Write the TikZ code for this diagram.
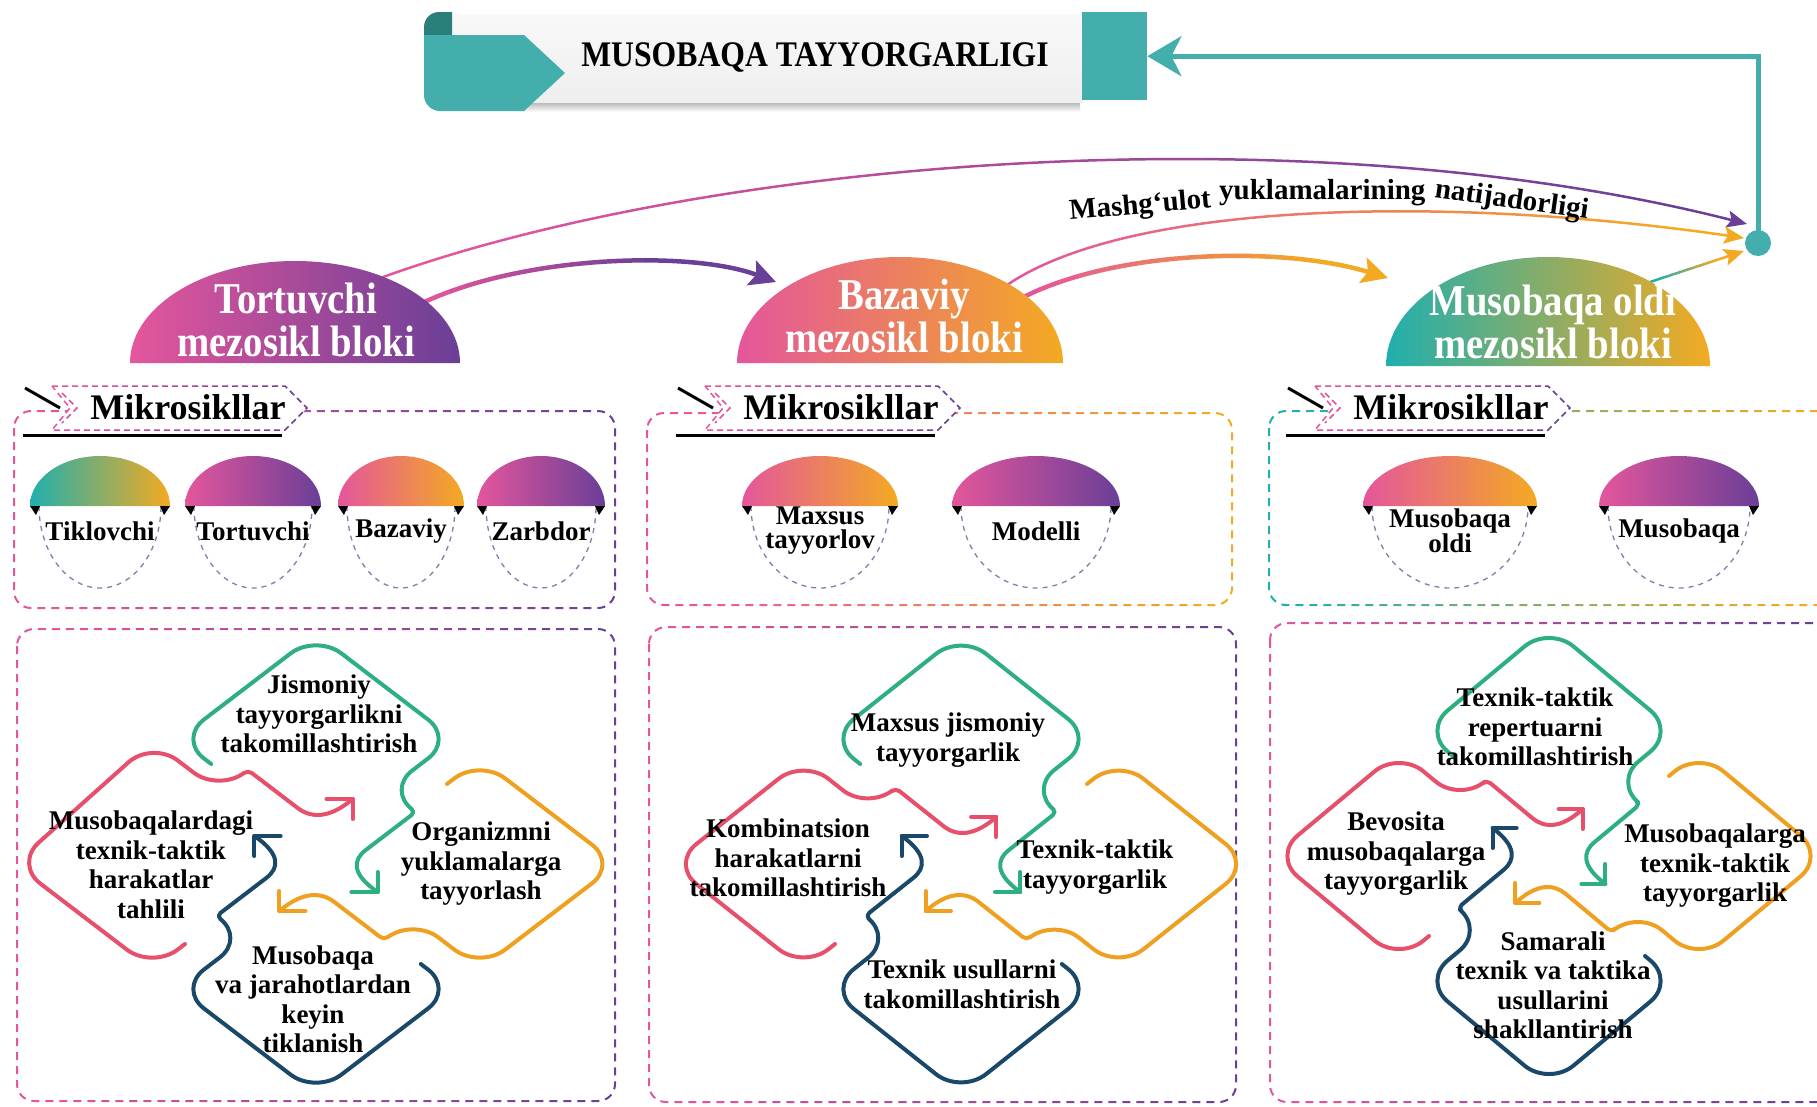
\documentclass[tikz,border=0pt]{standalone}
\usepackage{fontspec}
\setmainfont{Liberation Serif}
\newfontfamily\condfont{Liberation Serif}[FakeStretch=0.88]
\usetikzlibrary{arrows.meta,calc,positioning}

\definecolor{pinkc}{HTML}{E4569C}
\definecolor{purplec}{HTML}{6A3F97}
\definecolor{orangec}{HTML}{F3AA22}
\definecolor{tealc}{HTML}{20AFAD}
\definecolor{bannerteal}{HTML}{43AEAB}
\definecolor{curlteal}{HTML}{2B7F7B}
\definecolor{greenc}{HTML}{2EAF7F}
\definecolor{orangecyc}{HTML}{EFA020}
\definecolor{navyc}{HTML}{1A4868}
\definecolor{redc}{HTML}{E6506A}
\definecolor{dashgray}{HTML}{7E7FAA}

% colour running from left to right: same path, clipped in bands
\newcommand\gradline[5]{%
  \foreach \bandno in {0,...,15}{%
    \pgfmathsetmacro\bandL{ifthenelse(\bandno==0,-200,#3+(#4-#3)/16*\bandno)}%
    \pgfmathsetmacro\bandR{ifthenelse(\bandno==15,2200,#3+(#4-#3)/16*(\bandno+1))}%
    \pgfmathtruncatemacro\bandmix{100*\bandno/15}%
    \begin{scope}
      \clip (\bandL,-1300) rectangle (\bandR+0.5,200);
      \draw[color=#2!\bandmix!#1] #5;
    \end{scope}}}

% one arm of a cycle (drawn in the top position, then turned);
% #6 pushes the notched side outwards
\newcommand\squiggle[6]{%
  \begin{scope}[shift={(#1,#2)}, xscale=#3, rotate=#4]
    \draw[cycline, #5] (-80,100) [rounded corners=32pt] -- (-105,125) -- (0,230) -- (105+#6,125)
      -- (54+#6,74) [rounded corners=5pt] -- (76+#6,52) -- (41+#6,17) [sharp corners]
      .. controls (28+#6,4) and (27+#6,-10) .. (47+#6,-28);
    \draw[cycline, #5] (27+#6,-28) -- (47+#6,-28) -- (47+#6,-8);
  \end{scope}}

% microcycle dome with dashed lower half
\newcommand\microdome[6]{%
  \draw[dashgray, line width=1.3pt, dash pattern=on 5pt off 5pt]
    (#2-#3+9,-506) arc[start angle=180, end angle=360, x radius=#3-9, y radius=82];
  \shade[left color=#4, right color=#5]
    (#2-#3,-506) arc[start angle=180, end angle=0, x radius=#3, y radius=50] -- cycle;
  \fill (#2-#3,-506) -- ++(10,0) -- ++(-4,-9) -- cycle;
  \fill (#2+#3,-506) -- ++(-10,0) -- ++(4,-9) -- cycle;
  \node[microlbl] (#1) at (#2,-531) {#6};}

% "Mikrosikllar" tag
\newcommand\mtag[2]{%
  \fill[white] (#1,-386) -- (#1+233,-386) -- (#1+255,-408) -- (#1+233,-430) -- (#1,-430) -- (#1+18,-408) -- cycle;
  \gradline{pinkc}{purplec}{#1}{#1+255}{[tagline] (#1,-386) -- (#1+233,-386) -- (#1+255,-408) -- (#1+233,-430)
    -- (#1,-430) -- (#1+18,-408) -- cycle (#1+10,-393) -- (#1+25,-408) -- (#1+10,-423)}
  \draw[line width=3pt] (#1-27,-388) -- (#1+8,-408);
  \draw[line width=3pt] (#1-29,-435) -- (#1+230,-435);
  \node[taglbl] (#2) at (#1+136,-407) {Mikrosikllar};}

\tikzset{
  x=1pt, y=1pt,
  cycline/.style={line width=4pt, line cap=round, line join=round},
  cyctext/.style={font=\bfseries\fontsize{27}{29.5}\selectfont, align=center},
  domelbl/.style={font=\condfont\bfseries\fontsize{44}{43}\selectfont, text=white, align=center},
  microlbl/.style={font=\bfseries\fontsize{27}{24}\selectfont, align=center},
  taglbl/.style={font=\bfseries\fontsize{36}{40}\selectfont},
  arclbl/.style={font=\bfseries\fontsize{29}{30}\selectfont, inner sep=0, anchor=base west},
  boxline/.style={dash pattern=on 8pt off 6pt, line width=2pt, rounded corners=17pt},
  tagline/.style={dash pattern=on 6pt off 4pt, line width=1.5pt},
  thickarc/.style={line width=4.5pt, -{Stealth[length=26pt, width=26pt, inset=5pt]}},
  thinarc/.style={line width=2.5pt, -{Stealth[length=20pt, width=17pt, inset=4pt]}},
}

\begin{document}
\begin{tikzpicture}
  \useasboundingbox (0,0) rectangle (1817,-1106);
  \clip (0,0) rectangle (1817,-1106);

  % dashed frames
  \gradline{pinkc}{purplec}{14}{615}{[boxline] (14,-411) rectangle (615,-608)}
  \gradline{pinkc}{orangec}{647}{1232}{[boxline] (647,-413) rectangle (1232,-605)}
  \gradline{tealc}{orangec}{1269}{1817}{[boxline] (1269,-411) rectangle (1845,-605)}
  \gradline{pinkc}{purplec}{17}{615}{[boxline] (17,-629) rectangle (615,-1101)}
  \gradline{pinkc}{purplec}{649}{1236}{[boxline] (649,-627) rectangle (1236,-1102)}
  \gradline{pinkc}{purplec}{1270}{1817}{[boxline] (1270,-623) rectangle (1845,-1102)}

  % ends of the arcs
  \coordinate (tortA) at (375,-280);
  \coordinate (tortB) at (418,-305);
  \coordinate (bazIn) at (776,-282);
  \coordinate (bazA) at (1000,-290);
  \coordinate (bazB) at (1018,-300);
  \coordinate (musIn) at (1388,-278);
  \coordinate (musA) at (1650,-282);
  \coordinate (hubA) at (1747,-224);
  \coordinate (hubB) at (1744,-238);
  \coordinate (hubC) at (1744,-251);

  \gradline{pinkc}{purplec}{379}{1700}{[thinarc] (tortA) .. controls (700,-160) and (1300,-110) .. (hubA)}
  \gradline{pinkc}{purplec}{420}{660}{[thickarc] (tortB) .. controls (520,-255) and (690,-250) .. (bazIn)}
  \gradline{pinkc}{orangec}{1005}{1700}{[thinarc] (bazA) .. controls (1120,-200) and (1450,-195) .. (hubB)}
  \gradline{pinkc}{orangec}{1020}{1330}{[thickarc] (bazB) .. controls (1110,-250) and (1280,-245) .. (musIn)}
  \gradline{tealc}{orangec}{1655}{1720}{[thinarc] (musA) -- (hubC)}

  % mesocycle domes
  \shade[left color=pinkc, right color=purplec] (130,-363) arc[start angle=180, end angle=0, x radius=165, y radius=102] -- cycle;
  \shade[left color=pinkc, right color=orangec] (737,-363) arc[start angle=180, end angle=0, x radius=163, y radius=106] -- cycle;
  \shade[left color=tealc, right color=orangec] (1386,-366) arc[start angle=180, end angle=0, x radius=162, y radius=109] -- cycle;
  \node[domelbl] (tort) at (296,-320) {Tortuvchi\\mezosikl bloki};
  \node[domelbl] (baz) at (904,-316) {Bazaviy\\mezosikl bloki};
  \node[domelbl] (mus) at (1553,-322) {Musobaqa oldi\\mezosikl bloki};

  % title banner
  \shade[top color=black!35, bottom color=white] (520,-100) rectangle (1080,-112);
  \shade[top color=gray!5, bottom color=gray!13] (446,-14) rectangle (1083,-102);
  \fill[curlteal] (452,-40) -- (424,-40) -- (424,-27) arc[start angle=180, end angle=90, radius=15] -- (452,-12) -- cycle;
  \fill[bannerteal] (424,-35) -- (524,-35) -- (565,-73) -- (524,-111) -- (440,-111)
    arc[start angle=270, end angle=180, radius=16] -- cycle;
  \node[fill=bannerteal, minimum width=65pt, minimum height=88pt, inner sep=0, anchor=north west] (bantab) at (1082,-12) {};
  \node[font=\condfont\bfseries\fontsize{36}{40}\selectfont] (title) at (815,-57) {MUSOBAQA TAYYORGARLIGI};

  \node[circle, fill=bannerteal, minimum size=26pt, inner sep=0] (hub) at (1758,-243) {};
  \draw[bannerteal, line width=5pt, -{Stealth[length=34pt, width=40pt, inset=10pt]}] (hub.center) |- (bantab.east);

  % label bent along the arcs
  \node[arclbl, rotate=5] (lblA) at (1070,-220) {Mashg‘ulot};
  \node[arclbl] (lblB) at (1219,-199) {yuklamalarining};
  \node[arclbl, rotate=-8] (lblC) at (1434,-197) {natijadorligi};

  % microcycles
  \mtag{52}{tag1}
  \mtag{705}{tag2}
  \mtag{1315}{tag3}

  \microdome{mTik}{100}{70}{tealc}{orangec}{Tiklovchi}
  \microdome{mTor}{253}{68}{pinkc}{purplec}{Tortuvchi}
  \microdome{mBaz}{401}{63}{pinkc}{orangec}{Bazaviy}
  \microdome{mZar}{541}{64}{pinkc}{purplec}{Zarbdor}
  \microdome{mMax}{820}{78}{pinkc}{orangec}{Maxsus\\tayyorlov}
  \microdome{mMod}{1036}{84}{pinkc}{purplec}{Modelli}
  \microdome{mMol}{1450}{87}{pinkc}{orangec}{Musobaqa\\oldi}
  \microdome{mMus}{1679}{80}{pinkc}{purplec}{Musobaqa}

  % cycles
  \squiggle{316}{-864}{1.31}{0}{greenc}{0}
  \squiggle{316}{-864}{1.31}{-90}{orangecyc}{0}
  \squiggle{316}{-864}{1.31}{180}{navyc}{0}
  \squiggle{316}{-864}{1.31}{90}{redc}{18}
  \node[cyctext] (c1top) at (319,-714) {Jismoniy\\tayyorgarlikni\\takomillashtirish};
  \node[cyctext] (c1right) at (481,-864) {Organizmni\\yuklamalarga\\tayyorlash};
  \node[cyctext] (c1bot) at (313,-999) {Musobaqa\\va jarahotlardan\\keyin\\tiklanish};
  \node[cyctext] (c1left) at (151,-865) {Musobaqalardagi\\texnik-taktik\\harakatlar\\tahlili};

  \squiggle{961}{-864}{1.26}{0}{greenc}{0}
  \squiggle{961}{-864}{1.26}{-90}{orangecyc}{0}
  \squiggle{961}{-864}{1.26}{180}{navyc}{0}
  \squiggle{961}{-864}{1.26}{90}{redc}{0}
  \node[cyctext] (c2top) at (948,-740) {Maxsus jismoniy\\tayyorgarlik};
  \node[cyctext] (c2right) at (1095,-867) {Texnik-taktik\\tayyorgarlik};
  \node[cyctext] (c2bot) at (962,-984) {Texnik usullarni\\takomillashtirish};
  \node[cyctext] (c2left) at (788,-858) {Kombinatsion\\harakatlarni\\takomillashtirish};

  \squiggle{1549}{-856}{1.2}{0}{greenc}{0}
  \squiggle{1549}{-856}{1.2}{-90}{orangecyc}{0}
  \squiggle{1549}{-856}{1.2}{180}{navyc}{0}
  \squiggle{1549}{-856}{1.2}{90}{redc}{0}
  \node[cyctext] (c3top) at (1535,-727) {Texnik-taktik\\repertuarni\\takomillashtirish};
  \node[cyctext] (c3right) at (1715,-866) {Musobaqalarga\\texnik-taktik\\tayyorgarlik};
  \node[cyctext] (c3bot) at (1553,-985) {Samarali\\texnik va taktika\\usullarini\\shakllantirish};
  \node[cyctext] (c3left) at (1396,-854) {Bevosita\\musobaqalarga\\tayyorgarlik};
\end{tikzpicture}
\end{document}
